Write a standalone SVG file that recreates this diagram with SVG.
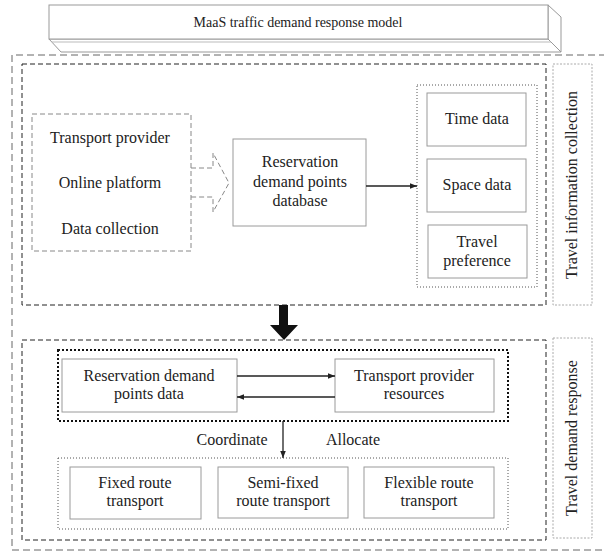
<svg xmlns="http://www.w3.org/2000/svg" width="604" height="552" viewBox="0 0 604 552" font-family="'Liberation Serif', 'DejaVu Serif', serif">
<style>
  text { font-family: "Liberation Serif", "DejaVu Serif", serif; font-size: 16px; fill: #222; text-anchor: middle; }
  .title { font-size: 14px; }
  .box { fill: #fff; stroke: #9a9a9a; stroke-width: 1; }
  .outer { fill: none; stroke: #666; stroke-width: 1; stroke-dasharray: 7 4; }
  .inner { fill: none; stroke: #222; stroke-width: 1; stroke-dasharray: 5 3; }
  .lbl { fill: none; stroke: #aaa; stroke-width: 1; stroke-dasharray: 2 1.5; }
  .dot { fill: none; stroke: #555; stroke-width: 1; stroke-dasharray: 1 2; }
  .thickdot { fill: none; stroke: #111; stroke-width: 2; stroke-dasharray: 2 2; }
  .gdash { fill: none; stroke: #888; stroke-width: 1; stroke-dasharray: 5 3; }
  .conn { fill: none; stroke: #222; stroke-width: 1.3; }
</style>
<defs>
  <marker id="ah" viewBox="0 0 10 10" refX="10" refY="5" markerWidth="7" markerHeight="7" markerUnits="userSpaceOnUse" orient="auto">
    <path d="M0,1 L10,5 L0,9 Z" fill="#222"/>
  </marker>
</defs>
<rect width="604" height="552" fill="#fff"/>

<g id="title">
  <path d="M49,39 L548,39 L561,52 L61,52 Z" fill="#fff" stroke="#999"/>
  <path d="M548,5 L561,17 L561,52 L548,39 Z" fill="#fff" stroke="#999"/>
  <rect x="49" y="5" width="499" height="34" class="box"/>
  <line x1="52" y1="42" x2="551" y2="42" stroke="#bbb"/>
  <text class="title" x="298" y="27">MaaS traffic demand response model</text>
</g>

<g id="frames">
  <path d="M606,55 L12,55 L12,550 L606,550" class="outer"/>
  <rect x="22" y="64" width="524" height="241" class="inner"/>
  <rect x="22" y="340" width="524" height="200" class="inner"/>
</g>

<g id="label-collection">
  <rect x="553" y="64" width="39" height="241" class="lbl"/>
  <text transform="translate(577,185) rotate(-90)">Travel information collection</text>
</g>
<g id="label-response">
  <rect x="553" y="338" width="39" height="200" class="lbl"/>
  <text transform="translate(577,438) rotate(-90)">Travel demand response</text>
</g>

<g id="sources">
  <rect x="32" y="114" width="159" height="137" class="gdash"/>
  <text x="110" y="143">Transport provider</text>
  <text x="110" y="188">Online platform</text>
  <text x="110" y="234">Data collection</text>
</g>

<g id="database">
  <rect x="233" y="139" width="133" height="87" class="box"/>
  <text x="300" y="167">Reservation</text>
  <text x="300" y="187">demand points</text>
  <text x="300" y="206">database</text>
</g>

<g id="data-group">
  <rect x="417" y="85" width="120" height="202" class="dot"/>
  <g id="time-data">
    <rect x="427" y="93" width="99" height="53" class="box"/>
    <text x="477" y="124">Time data</text>
  </g>
  <g id="space-data">
    <rect x="427" y="159" width="99" height="53" class="box"/>
    <text x="477" y="190">Space data</text>
  </g>
  <g id="travel-preference">
    <rect x="428" y="225" width="99" height="53" class="box"/>
    <text x="477" y="247">Travel</text>
    <text x="477" y="266">preference</text>
  </g>
</g>

<g id="response-top">
  <rect x="58" y="350" width="450" height="71" class="thickdot"/>
  <g id="reservation-data">
    <rect x="62" y="359" width="175" height="53" class="box"/>
    <text x="149" y="381">Reservation demand</text>
    <text x="149" y="399">points data</text>
  </g>
  <g id="provider-resources">
    <rect x="335" y="359" width="159" height="53" class="box"/>
    <text x="414" y="381">Transport provider</text>
    <text x="414" y="399">resources</text>
  </g>
</g>

<g id="response-bottom">
  <rect x="58" y="458" width="450" height="71" class="dot"/>
  <g id="fixed">
    <rect x="70" y="467" width="131" height="52" class="box"/>
    <text x="135" y="488">Fixed route</text>
    <text x="135" y="506">transport</text>
  </g>
  <g id="semi-fixed">
    <rect x="218" y="467" width="130" height="51" class="box"/>
    <text x="283" y="488">Semi-fixed</text>
    <text x="283" y="506">route transport</text>
  </g>
  <g id="flexible">
    <rect x="364" y="467" width="130" height="51" class="box"/>
    <text x="429" y="488">Flexible route</text>
    <text x="429" y="506">transport</text>
  </g>
</g>

<g id="connectors">
  <path d="M191,168 L213,168 L213,153 L229,183 L213,212 L213,197 L191,197" class="gdash"/>
  <line x1="366" y1="186" x2="417" y2="186" class="conn" marker-end="url(#ah)"/>
  <path d="M279,305 L288,305 L288,325 L298,325 L284,340 L270,325 L279,325 Z" fill="#111"/>
  <line x1="237" y1="376" x2="335" y2="376" class="conn" marker-end="url(#ah)"/>
  <line x1="335" y1="397" x2="237" y2="397" class="conn" marker-end="url(#ah)"/>
  <line x1="283" y1="421" x2="283" y2="458" class="conn" marker-end="url(#ah)"/>
  <text x="232" y="445">Coordinate</text>
  <text x="353" y="445">Allocate</text>
</g>
</svg>
